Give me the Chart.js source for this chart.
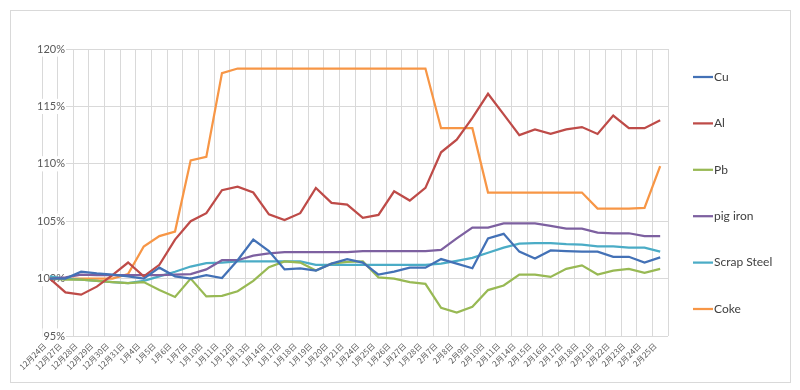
<!DOCTYPE html>
<html>
<head>
<meta charset="utf-8">
<script src="https://cdn.jsdelivr.net/npm/chart.js@4"></script>
<style>
  body { margin: 0; background: #fff; }
  #wrap { position: relative; width: 800px; height: 390px; }
  #frame { position: absolute; left: 10px; top: 10px; width: 779px; height: 371px; border: 1px solid #d9d9d9; pointer-events: none; }
</style>
</head>
<body>
<div id="wrap">
  <canvas id="chart-component"></canvas>
  <div id="frame"></div>
</div>
<script>
const dates = ['12月24日','12月27日','12月28日','12月29日','12月30日','12月31日','1月4日','1月5日','1月6日','1月7日',
  '1月10日','1月11日','1月12日','1月13日','1月14日','1月17日','1月18日','1月19日','1月20日','1月21日',
  '1月24日','1月25日','1月26日','1月27日','1月28日','2月7日','2月8日','2月9日','2月10日','2月11日',
  '2月14日','2月15日','2月16日','2月17日','2月18日','2月21日','2月22日','2月23日','2月24日','2月25日'];

// index values, % of 12/24
const cu = [100, 100.0, 100.6, 100.45, 100.35, 100.2, 100.0, 100.95, 100.2, 100.0,
  100.3, 100.05, 101.6, 103.4, 102.4, 100.8, 100.9, 100.7, 101.3, 101.7,
  101.4, 100.35, 100.6, 100.95, 100.95, 101.7, 101.3, 100.9, 103.5, 103.9,
  102.35, 101.75, 102.45, 102.4, 102.35, 102.35, 101.9, 101.9, 101.4, 101.85];
const al = [100, 98.8, 98.6, 99.3, 100.3, 101.4, 100.2, 101.2, 103.4, 105.0,
  105.7, 107.7, 108.0, 107.5, 105.6, 105.1, 105.7, 107.9, 106.6, 106.45,
  105.3, 105.55, 107.6, 106.8, 107.9, 111.0, 112.1, 114.0, 116.1, 114.3,
  112.5, 113.0, 112.6, 113.0, 113.2, 112.6, 114.2, 113.1, 113.1, 113.8];
const pb = [100, 99.9, 99.9, 99.8, 99.7, 99.6, 99.7, 99.0, 98.4, 100.0,
  98.45, 98.5, 98.9, 99.8, 101.0, 101.5, 101.4, 100.7, 101.3, 101.45,
  101.5, 100.1, 100.0, 99.7, 99.55, 97.45, 97.05, 97.55, 99.0, 99.4,
  100.35, 100.35, 100.15, 100.85, 101.15, 100.35, 100.7, 100.85, 100.5, 100.85];
const pigIron = [100, 100.1, 100.35, 100.3, 100.3, 100.3, 100.3, 100.3, 100.35, 100.4,
  100.8, 101.6, 101.6, 102.0, 102.2, 102.3, 102.3, 102.3, 102.3, 102.3,
  102.4, 102.4, 102.4, 102.4, 102.4, 102.5, 103.5, 104.45, 104.45, 104.8,
  104.8, 104.8, 104.6, 104.35, 104.35, 104.0, 103.95, 103.95, 103.7, 103.7];
const scrapSteel = [100.2, 100.0, 99.9, 99.8, 99.7, 99.6, 99.8, 100.2, 100.6, 101.05,
  101.35, 101.4, 101.5, 101.5, 101.5, 101.5, 101.5, 101.2, 101.2, 101.2,
  101.2, 101.2, 101.2, 101.2, 101.2, 101.3, 101.55, 101.8, 102.25, 102.7,
  103.05, 103.1, 103.1, 103.0, 102.95, 102.8, 102.8, 102.7, 102.7, 102.35];
const coke = [100, 100, 100, 100, 100, 100.4, 102.8, 103.7, 104.1, 110.3,
  110.6, 117.9, 118.3, 118.3, 118.3, 118.3, 118.3, 118.3, 118.3, 118.3,
  118.3, 118.3, 118.3, 118.3, 118.3, 113.1, 113.1, 113.1, 107.5, 107.5,
  107.5, 107.5, 107.5, 107.5, 107.5, 106.1, 106.1, 106.1, 106.15, 109.8];

const seriesNames = ['Cu', 'Al', 'Pb', 'pig iron', 'Scrap Steel', 'Coke'];
const seriesData = [cu, al, pb, pigIron, scrapSteel, coke];
const seriesColors = ['#4371B6', '#BE4B48', '#98B954', '#7D60A0', '#4BACC6', '#F79646'];

// legend on the right, drawn next to the plot
const sideLegend = {
  id: 'sideLegend',
  afterDraw(chart) {
    const ctx = chart.ctx;
    const x0 = chart.chartArea.right + 25;
    ctx.save();
    ctx.font = '12px Lato';
    ctx.textBaseline = 'middle';
    chart.data.datasets.forEach((ds, i) => {
      const y = 77 + i * 46.4;
      ctx.strokeStyle = ds.borderColor;
      ctx.lineWidth = 2.25;
      ctx.beginPath();
      ctx.moveTo(x0, y);
      ctx.lineTo(x0 + 20, y);
      ctx.stroke();
      ctx.fillStyle = '#404040';
      ctx.fillText(ds.label, x0 + 21, y);
    });
    ctx.restore();
  }
};

const ctx = document.getElementById('chart-component').getContext('2d');
new Chart(ctx, {
  type: 'line',
  data: {
    labels: dates,
    datasets: seriesNames.map((name, i) => ({
      label: name,
      data: seriesData[i],
      borderColor: seriesColors[i],
      backgroundColor: seriesColors[i],
      borderWidth: 2.25,
      pointRadius: 0,
      tension: 0,
      fill: false
    }))
  },
  options: {
    responsive: true,
    maintainAspectRatio: false,
    animation: false,
    layout: { padding: { top: 49, left: 10, right: 132, bottom: 0 } },
    plugins: {
      legend: { display: false },
      tooltip: { enabled: false }
    },
    scales: {
      x: {
        offset: true,
        grid: { color: '#d9d9d9', drawTicks: false, offset: true },
        border: { display: false },
        afterFit: scale => { scale.height = 54; },
        ticks: {
          autoSkip: false,
          minRotation: 45,
          maxRotation: 45,
          padding: 5,
          labelOffset: -5,
          color: '#595959',
          font: { family: 'Noto Sans CJK SC', size: 8 }
        }
      },
      y: {
        min: 95,
        max: 120,
        grid: { color: '#d9d9d9', drawTicks: false },
        border: { display: false },
        afterFit: scale => { scale.width = 32; },
        ticks: {
          stepSize: 5,
          mirror: true,
          crossAlign: 'far',
          padding: -5,
          color: '#595959',
          font: { family: 'Lato', size: 11 },
          showLabelBackdrop: true,
          backdropColor: '#ffffff',
          backdropPadding: { x: 1, y: 1 },
          callback: v => v + '%'
        }
      }
    }
  },
  plugins: [sideLegend]
});
</script>
</body>
</html>
